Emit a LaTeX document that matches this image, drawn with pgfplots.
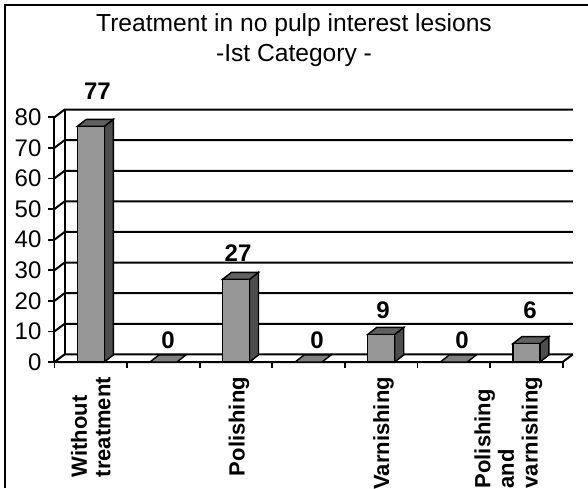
\documentclass[border=0pt]{standalone}
\usepackage{fontspec}
\setmainfont{Liberation Sans}
\usepackage{pgfplots}
\pgfplotsset{compat=1.18}
\definecolor{barfront}{RGB}{150,150,150}
\definecolor{barside}{RGB}{77,77,77}
\definecolor{bartop}{RGB}{96,96,96}
\definecolor{flat}{RGB}{128,128,128}
\begin{document}
\begin{tikzpicture}
\begin{axis}[
  x=36.3pt, y=1.53pt,
  xmin=-0.5, xmax=6.64, ymin=0, ymax=82.5,
  axis line style={draw=none},
  clip=false,
  tick align=outside,
  tick pos=left,
  major tick length=3pt,
  tick style={black, line width=0.9pt},
  ytick={0,10,...,80},
  xtick={-0.5,0.5,...,6.5},
  xticklabels={},
  extra x ticks={0,2.04,4.03,5.75},
  extra x tick labels={{Without\\treatment},{Polishing},{Varnishing},{Polishing\\and\\varnishing}},
  extra x tick style={major tick length=0pt, xticklabel style={rotate=90, anchor=east, align=left, font=\bfseries\fontsize{11}{11.8}\selectfont, xshift=-4pt}},
  yticklabel style={font=\fontsize{12}{14}\selectfont},
  /pgf/number format/assume math mode=true,
]
% walls and floor
\draw[line width=1pt] (axis cs:-0.5,0) -- (axis cs:-0.5,80);
\draw[line width=1pt] (axis cs:-0.36,2.5) -- (axis cs:-0.36,82.5);
\pgfplotsinvokeforeach{0,10,20,30,40,50,60,70,80}{
  \draw[line width=1pt] (axis cs:-0.5,#1) -- (axis cs:-0.36,{#1+2.5}) -- (axis cs:6.64,{#1+2.5});
}
\draw[line width=1pt] (axis cs:-0.5,0) -- (axis cs:6.5,0) -- (axis cs:6.64,2.5);
% bar 0: 77
\addplot[fill=barside, draw=black, line width=0.7pt] coordinates {(0.186,0) (0.31,2.3) (0.31,79.3) (0.186,77)} --cycle;
\addplot[fill=bartop, draw=black, line width=0.7pt] coordinates {(-0.186,77) (0.186,77) (0.31,79.3) (-0.062,79.3)} --cycle;
\addplot[fill=barfront, draw=black, line width=0.7pt] coordinates {(-0.186,0) (0.186,0) (0.186,77) (-0.186,77)} --cycle;
% bar 1: 0
\addplot[fill=flat, draw=black, line width=0.7pt] coordinates {(0.814,0) (1.186,0) (1.31,2.3) (0.938,2.3)} --cycle;
% bar 2: 27
\addplot[fill=barside, draw=black, line width=0.7pt] coordinates {(2.186,0) (2.31,2.3) (2.31,29.3) (2.186,27)} --cycle;
\addplot[fill=bartop, draw=black, line width=0.7pt] coordinates {(1.814,27) (2.186,27) (2.31,29.3) (1.938,29.3)} --cycle;
\addplot[fill=barfront, draw=black, line width=0.7pt] coordinates {(1.814,0) (2.186,0) (2.186,27) (1.814,27)} --cycle;
% bar 3: 0
\addplot[fill=flat, draw=black, line width=0.7pt] coordinates {(2.814,0) (3.186,0) (3.31,2.3) (2.938,2.3)} --cycle;
% bar 4: 9
\addplot[fill=barside, draw=black, line width=0.7pt] coordinates {(4.186,0) (4.31,2.3) (4.31,11.3) (4.186,9)} --cycle;
\addplot[fill=bartop, draw=black, line width=0.7pt] coordinates {(3.814,9) (4.186,9) (4.31,11.3) (3.938,11.3)} --cycle;
\addplot[fill=barfront, draw=black, line width=0.7pt] coordinates {(3.814,0) (4.186,0) (4.186,9) (3.814,9)} --cycle;
% bar 5: 0
\addplot[fill=flat, draw=black, line width=0.7pt] coordinates {(4.814,0) (5.186,0) (5.31,2.3) (4.938,2.3)} --cycle;
% bar 6: 6
\addplot[fill=barside, draw=black, line width=0.7pt] coordinates {(6.186,0) (6.31,2.3) (6.31,8.3) (6.186,6)} --cycle;
\addplot[fill=bartop, draw=black, line width=0.7pt] coordinates {(5.814,6) (6.186,6) (6.31,8.3) (5.938,8.3)} --cycle;
\addplot[fill=barfront, draw=black, line width=0.7pt] coordinates {(5.814,0) (6.186,0) (6.186,6) (5.814,6)} --cycle;
% value labels (position of label, value as meta)
\addplot[draw=none, mark=none, point meta=explicit symbolic, nodes near coords,
  nodes near coords style={font=\bfseries\fontsize{12}{14}\selectfont, anchor=center}]
  coordinates {(0.092,88.6) [77] (1.063,7.0) [0] (2.028,35.5) [27] (3.116,7.0) [0] (4.025,17.0) [9] (5.113,7.0) [0] (6.05,17.0) [6]};
\coordinate (O) at (axis cs:0,0);
\end{axis}
\path ([shift={(-45.4pt,-63pt)}]O) coordinate (BL);
\pgfresetboundingbox
\path[use as bounding box] (BL) rectangle ++(294pt,244pt);
\draw[line width=1pt] ([shift={(2.75pt,0pt)}]BL) -- ([shift={(2.75pt,241.25pt)}]BL) -- ([shift={(294pt,241.25pt)}]BL);
\node[anchor=base, font=\fontsize{12.3}{14}\selectfont, inner sep=0pt] at ([shift={(147pt,228pt)}]BL) {Treatment in no pulp interest lesions};
\node[anchor=base, font=\fontsize{12.3}{14}\selectfont, inner sep=0pt] at ([shift={(147pt,213pt)}]BL) {-Ist Category -};
\end{tikzpicture}
\end{document}
